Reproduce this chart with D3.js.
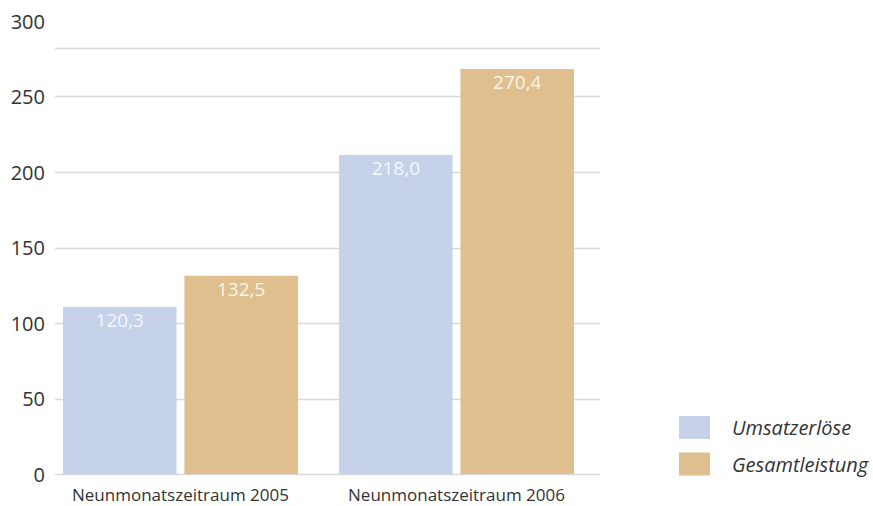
<!DOCTYPE html>
<html>
<head>
<meta charset="utf-8">
<script src="https://d3js.org/d3.v7.min.js"></script>
<style>
  body { margin: 0; background: #fff; }
  text { font-family: "Open Sans", "Noto Sans", sans-serif; fill: #333; }
</style>
</head>
<body>
<svg id="chart" width="873" height="506"></svg>
<script>
// data
const categories = ["Neunmonatszeitraum 2005", "Neunmonatszeitraum 2006"];
const seriesNames = ["Umsatzerlöse", "Gesamtleistung"];
// bar heights as drawn in the reference (they sit a bit below the printed numbers)
const umsatz = [110.6, 211.3];
const gesamt = [131.3, 268.2];
// printed labels
const umsatzLabels = ["120,3", "218,0"];
const gesamtLabels = ["132,5", "270,4"];
const yTicks = [0, 50, 100, 150, 200, 250, 300];
const colors = ["#c6d2ea", "#dfbf8d"];

const svg = d3.select("#chart");

const plotLeft = 55, plotRight = 600, frameTop = 48;

let y = d3.scaleLinear().domain([0, 300]).range([474, 21]);

let x0 = d3.scaleBand()
    .domain(categories)
    .range([63, 574])
    .paddingInner(0.149)
    .paddingOuter(0);

let x1 = d3.scaleBand()
    .domain(seriesNames)
    .range([0, x0.bandwidth()])
    .paddingInner(0.065)
    .paddingOuter(0);

// gridlines (0..250) and frame top
svg.append("g").selectAll("line")
    .data(yTicks.filter(d => d < 300))
    .enter().append("line")
    .attr("x1", plotLeft).attr("x2", plotRight)
    .attr("y1", d => Math.round(y(d)) + 0.5)
    .attr("y2", d => Math.round(y(d)) + 0.5)
    .attr("stroke", "#d9d9d9")
    .attr("stroke-width", 1.5);

svg.append("line")
    .attr("x1", plotLeft).attr("x2", plotRight)
    .attr("y1", frameTop + 0.5).attr("y2", frameTop + 0.5)
    .attr("stroke", "#d9d9d9")
    .attr("stroke-width", 1.5);

// y axis labels
svg.append("g").selectAll("text")
    .data(yTicks)
    .enter().append("text")
    .attr("x", 45)
    .attr("y", d => y(d))
    .attr("dy", "0.38em")
    .attr("text-anchor", "end")
    .style("font-size", "20px")
    .text(d => d);

const rows = categories.map((c, i) => ({
    cat: c,
    vals: [
        { s: seriesNames[0], v: umsatz[i], label: umsatzLabels[i], color: colors[0] },
        { s: seriesNames[1], v: gesamt[i], label: gesamtLabels[i], color: colors[1] }
    ]
}));

let groups = svg.append("g").selectAll("g")
    .data(rows)
    .enter().append("g")
    .attr("transform", d => `translate(${x0(d.cat)},0)`);

groups.selectAll("rect")
    .data(d => d.vals)
    .enter().append("rect")
    .attr("x", d => x1(d.s))
    .attr("y", d => y(d.v))
    .attr("width", x1.bandwidth())
    .attr("height", d => y(0) - y(d.v))
    .attr("fill", d => d.color);

groups.selectAll("text.val")
    .data(d => d.vals)
    .enter().append("text")
    .attr("class", "val")
    .attr("x", d => x1(d.s) + x1.bandwidth() / 2)
    .attr("y", d => y(d.v) + 20)
    .attr("text-anchor", "middle")
    .style("font-size", "19px")
    .style("fill", "#ffffff")
    .style("fill-opacity", 0.85)
    .text(d => d.label);

// category labels
svg.append("g").selectAll("text")
    .data(categories)
    .enter().append("text")
    .attr("x", d => x0(d) + x0.bandwidth() / 2)
    .attr("y", 501)
    .attr("text-anchor", "middle")
    .style("font-size", "17px")
    .text(d => d);

// legend
let legend = svg.append("g").selectAll("g")
    .data(seriesNames)
    .enter().append("g")
    .attr("transform", (d, i) => `translate(679,${416 + i * 36.5})`);

legend.append("rect")
    .attr("width", 31).attr("height", 23)
    .attr("fill", (d, i) => colors[i]);

legend.append("text")
    .attr("x", 53).attr("y", 12)
    .attr("dy", "0.35em")
    .style("font-size", "20px")
    .style("font-style", "italic")
    .text(d => d);
</script>
</body>
</html>
